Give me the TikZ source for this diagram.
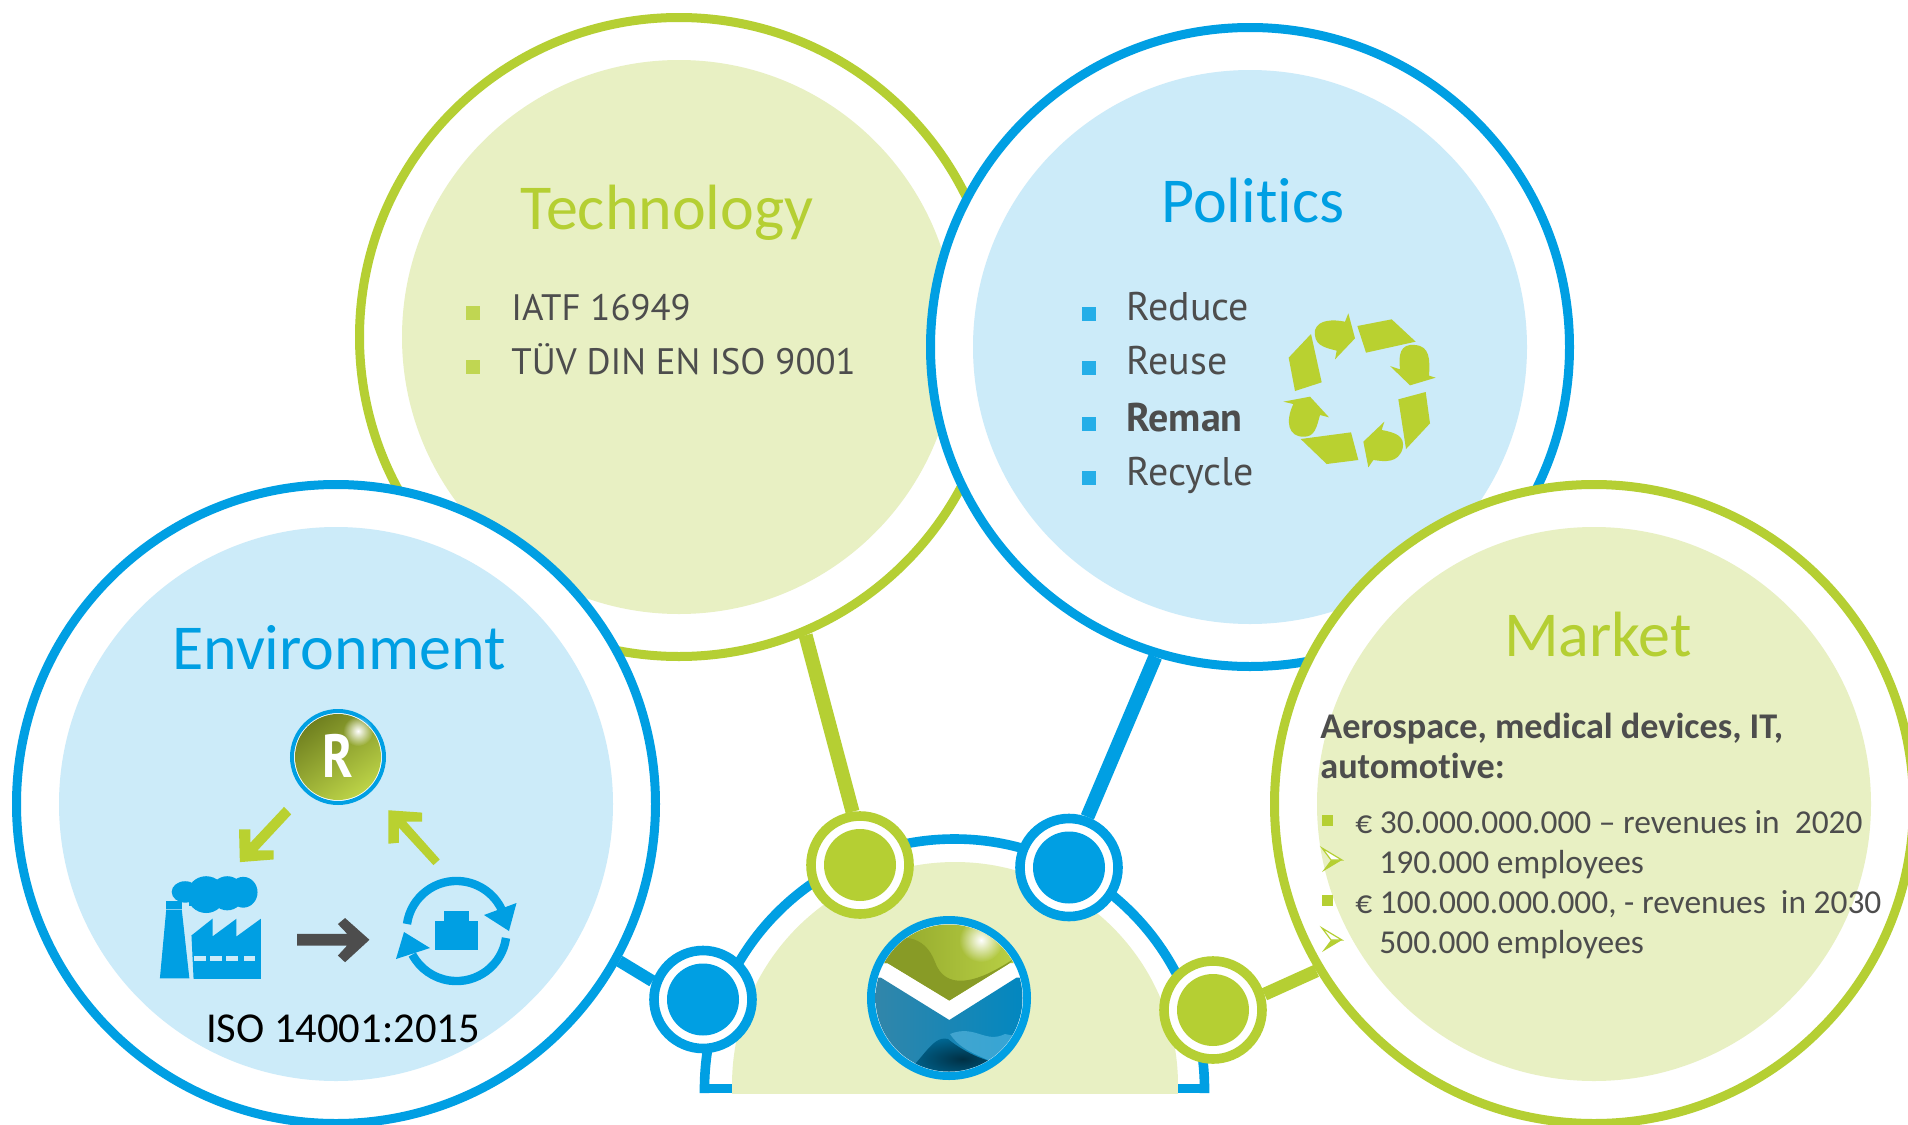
\documentclass[tikz,border=0pt]{standalone}
\usepackage{fontspec}
\setmainfont[Ligatures=NoCommon]{Carlito}
\newfontfamily\din{PT Sans}
\usetikzlibrary{fadings}
\definecolor{lime}{HTML}{B5CF33}
\definecolor{limepale}{HTML}{E8F0C3}
\definecolor{sky}{HTML}{009FE3}
\definecolor{skypale}{HTML}{CCEBF9}
\definecolor{ink}{HTML}{4D4D4D}
\definecolor{skybul}{HTML}{25AEE8}
\pgfdeclarelayer{back}
\pgfsetlayers{back,main}
\tikzfading[name=softspot,inner color=transparent!0,outer color=transparent!100]
\tikzset{
  ring/.style={circle,draw=#1,line width=4.5pt,fill=white,inner sep=0pt,minimum size=319.5pt},
  disc/.style={circle,fill=#1,inner sep=0pt,minimum size=277pt},
  hub/.style={circle,draw=#1,line width=4.8pt,fill=white,inner sep=0pt,minimum size=49pt},
  hubcore/.style={circle,fill=#1,inner sep=0pt,minimum size=36pt},
  link/.style={line width=7pt,draw=#1},
  title/.style={anchor=base,inner sep=0pt,font=\fontsize{32}{32}\selectfont,text=#1},
  din/.style={anchor=base west,inner sep=0pt,font=\din\fontsize{18.4}{19}\selectfont,text=ink},
  dinp/.style={anchor=base west,inner sep=0pt,font=\din\fontsize{20}{20}\selectfont,text=ink},
  mk/.style={anchor=base west,inner sep=0pt,font=\fontsize{16.7}{16.7}\selectfont,text=ink},
  mkb/.style={anchor=base west,inner sep=0pt,font=\bfseries\fontsize{18.1}{18}\selectfont,text=ink},
  bul/.style={rectangle,fill=#1,inner sep=0pt,minimum size=7pt},
  mbul/.style={rectangle,fill=#1,inner sep=0pt,minimum size=5.5pt},
}
\begin{document}
\begin{tikzpicture}[x=0.5pt,y=-0.5pt]
\path[use as bounding box,clip] (0,0) rectangle (1908,1125);
\begin{pgfonlayer}{back}
\fill[white] (0,0) rectangle (1908,1125);
\end{pgfonlayer}

% big circles
\node[ring=lime] (tech) at (679,337) {};
\node[disc=limepale] (techd) at (679,337) {};
\node[ring=sky] (poli) at (1250,347) {};
\node[disc=skypale] (polid) at (1250,347) {};
\node[ring=sky] (envi) at (336,804) {};
\node[disc=skypale] (envid) at (336,804) {};
\node[ring=lime] (mark) at (1594,804) {};
\node[disc=limepale] (markd) at (1594,804) {};

% base half disc and arc
\begin{scope}
\clip (600,700) rectangle (1300,1093);
\fill[limepale] (955,1085) circle [radius=223];
\end{scope}
\draw[sky,line width=4.8pt,line cap=butt]
  (704.5,1093) -- (704.5,1089) arc[start angle=180,end angle=360,radius=250] -- (1204.5,1093);
\fill[sky] (700,1084) rectangle (732,1093);
\fill[sky] (1177.5,1084) rectangle (1209,1093);

% hubs
\node[hub=lime] (hubtech) at (860,865) {};
\node[hubcore=lime] (hubtechc) at (860,865) {};
\node[hub=sky] (hubpoli) at (1069,867.5) {};
\node[hubcore=sky] (hubpolic) at (1069,867.5) {};
\node[hub=sky] (hubenvi) at (703,999.5) {};
\node[hubcore=sky] (hubenvic) at (703,999.5) {};
\node[hub=lime] (hubmark) at (1213,1010) {};
\node[hubcore=lime] (hubmarkc) at (1213,1010) {};

% connectors
\begin{pgfonlayer}{back}
\draw[link=lime] (tech.-67) -- (hubtech.98);
\draw[link=sky] (poli.-107) -- (hubpoli.70);
\draw[link=sky,line width=6pt] (envi.-29) -- (hubenvi.160);
\draw[link=lime,line width=6.5pt] (mark.-149) -- (hubmark.17);
\end{pgfonlayer}

% logo
\node[circle,draw=sky,line width=4pt,fill=white,inner sep=0pt,minimum size=78pt] (logo) at (949,998) {};
\begin{scope}
\clip (949,998) circle [radius=73.5];
\path[clip] (870,963) -- (887.5,963) -- (949.3,1000.5) -- (1010,963) -- (1030,963) -- (1030,920) -- (870,920) -- cycle;
\shade[left color=lime!78!black,right color=lime!90!white] (870,920) rectangle (1030,1010);
\fill[lime!75!black] (870,950) .. controls (900,930) and (925,935) .. (935,962) .. controls (945,990) and (975,985) .. (1015,958) -- (960,1010) -- (870,1010) -- cycle;
\fill[white,path fading=softspot] (981,940) circle [radius=22];
\end{scope}
\begin{scope}
\clip (949,998) circle [radius=73.5];
\path[clip] (870,977.5) -- (880.7,977.5) -- (949.3,1020) -- (1016.7,977.5) -- (1030,977.5) -- (1030,1080) -- (870,1080) -- cycle;
\shade[left color=sky!65!black!80!white,right color=sky!85!black] (870,975) rectangle (1030,1080);
\fill[sky!55!white,opacity=.45] (950,1034) .. controls (975,1024) and (985,1044) .. (1005,1034) -- (1030,1039) -- (1030,1080) -- (990,1061) .. controls (975,1054) and (960,1049) .. (950,1034) -- cycle;
\shade[inner color=sky!30!black,outer color=sky!70!black] (895,1079) .. controls (920,1069) and (930,1034) .. (948,1039) .. controls (960,1049) and (985,1064) .. (1010,1064) -- (1030,1084) -- cycle;
\end{scope}

% titles
\node[title=lime] (ttech) at (667,229) {Technology};
\node[title=sky] (tpoli) at (1253,222) {Politics};
\node[title=sky] (tenvi) at (339,669.5) {Environment};
\node[title=lime] (tmark) at (1598,656) {Market};

% technology list
\node[bul=lime!85!white] (bt1) at (472.5,313) {};
\node[bul=lime!85!white] (bt2) at (472.5,367) {};
\node[din] (lt1) at (511,320.5) {IATF 16949};
\node[din] (lt2) at (511,374.5) {TÜV DIN EN ISO 9001};

% politics list
\node[bul=skybul] (bp1) at (1088.5,314) {};
\node[bul=skybul] (bp2) at (1088.5,367.5) {};
\node[bul=skybul] (bp3) at (1088.5,423.5) {};
\node[bul=skybul] (bp4) at (1088.5,478) {};
\node[dinp] (lp1) at (1126,320.5) {Reduce};
\node[dinp] (lp2) at (1126,374.5) {Reuse};
\node[dinp,font=\din\bfseries\fontsize{20}{20}\selectfont] (lp3) at (1126,431) {Reman};
\node[dinp] (lp4) at (1126,485) {Recycle};

% recycle symbol
\begin{scope}[shift={(1050,260)},x=0.16667pt,y=-0.16667pt]
\fill[lime!95!yellow] (783,222) -- (716,293) -- (735,393) -- (815,367) -- cycle;
\fill[lime!95!yellow] (795,210) .. controls (805,178) and (850,178) .. (885,185) -- (895,160) -- (915,235) -- (855,298) -- (860,272) .. controls (820,262) and (790,255) .. (795,210) -- cycle;
\fill[lime!95!yellow] (922,198) -- (1025,178) -- (1097,245) -- (948,278) -- cycle;
\fill[lime!95!yellow] (1020,318) -- (1050,328) .. controls (1045,285) and (1050,250) .. (1095,255) .. controls (1140,258) and (1140,300) .. (1137,347) -- (1157,353) -- (1080,376) -- cycle;
\fill[lime!95!yellow] (1045,418) -- (1127,396) -- (1140,490) -- (1068,567) -- cycle;
\fill[lime!95!yellow] (1003,485) -- (995,510) .. controls (1040,518) and (1065,530) .. (1058,565) .. controls (1045,610) and (1005,605) .. (970,600) -- (955,622) -- (940,545) -- cycle;
\fill[lime!95!yellow] (752,537) -- (903,517) -- (925,600) -- (830,612) -- cycle;
\fill[lime!95!yellow] (700,425) -- (780,410) -- (837,472) -- (810,465) .. controls (800,500) and (795,532) .. (760,530) .. controls (715,530) and (705,485) .. (730,432) -- cycle;
\end{scope}

% environment icons
\node[circle,draw=sky,line width=2pt,fill=white,inner sep=0pt,minimum size=46pt] (rball) at (338,757) {};
\shade[left color=lime!62!black,right color=lime!90!white,shading angle=35] (338,757) circle [radius=43];
\fill[white,path fading=softspot] (358,731) circle [radius=15];
\node[anchor=base,inner sep=0pt,text=white,font=\din\bfseries\fontsize{29}{29}\selectfont] (rlet) at (338,777.5) {\scalebox{.88}[1.05]{R}};
\begin{scope}[shift={(0,600)},x=0.2104pt,y=-0.16739pt]
\fill[lime!95!yellow] (675,618) -- (692,640) -- (612,748) -- (650,748) -- (650,775) -- (570,783) -- (568,685) -- (595,685) -- (595,725) -- cycle;
\fill[lime!95!yellow] (1045,775) -- (1030,792) -- (948,680) -- (948,725) -- (923,728) -- (923,628) -- (1003,635) -- (1003,662) -- (965,662) -- cycle;
% factory
\fill[sky] (380,1130) -- (395,925) -- (432,925) -- (450,1130) -- cycle;
\fill[sky] (395,898) rectangle (432,922);
\fill[sky] (440,872) ellipse [x radius=32,y radius=32];
\fill[sky] (490,880) ellipse [x radius=45,y radius=55];
\fill[sky] (540,876) ellipse [x radius=40,y radius=51];
\fill[sky] (578,873) ellipse [x radius=34,y radius=46];
\fill[sky] (450,860) rectangle (590,915);
\fill[sky] (460,1132) -- (455,1002) -- (505,952) -- (505,1005) -- (562,952) -- (562,1005) -- (620,952) -- (620,1132) -- cycle;
\fill[skypale] (462,1062) rectangle (490,1078);
\fill[skypale] (500,1062) rectangle (527,1078);
\fill[skypale] (538,1062) rectangle (565,1078);
\fill[skypale] (580,1062) rectangle (606,1078);
% dark arrow
\fill[ink] (706,997) -- (825,997) -- (803,968) -- (820,950) -- (878,1015) -- (820,1082) -- (803,1062) -- (825,1032) -- (706,1032) -- cycle;
% box
\fill[sky] (1055,930) rectangle (1115,965);
\fill[sky] (1033,960) rectangle (1137,1045);
\end{scope}
% cycle arrows
\coordinate (cyc) at (456.5,931);
\draw[sky,line width=4.2pt] (cyc) ++(-49.5,-7) arc[start angle=188,delta angle=156,radius=50];
\draw[sky,line width=4.2pt] (cyc) ++(49.5,7) arc[start angle=8,delta angle=144,radius=50];
\fill[sky] (516.5,903) -- (509,931) -- (484,915) -- cycle;
\fill[sky] (396,959) -- (404,932) -- (430,948) -- cycle;

\node[anchor=base,inner sep=0pt,font=\fontsize{21.3}{21}\selectfont,text=black] (iso) at (343,1042) {ISO 14001:2015};

% market text
\node[mkb] (m1) at (1320,738) {Aerospace, medical devices, IT,};
\node[mkb] (m2) at (1320,778) {automotive:};
\node[mbul=lime] (mb1) at (1327,820) {};
\node[mbul=lime] (mb3) at (1327,900) {};
\node[mk] (m3) at (1355,833) {€ 30.000.000.000 – revenues in\ \ 2020};
\node[mk] (m4) at (1379,873) {190.000 employees};
\node[mk] (m5) at (1355,913) {€ 100.000.000.000, - revenues\ \ in 2030};
\node[mk] (m6) at (1379,953) {500.000 employees};
\foreach \yy in {848,928} {
  \fill[lime] (1342,\yy+12) -- (1322,\yy+24) -- (1331,\yy+12) -- cycle;
  \draw[lime,line width=.6pt,fill=white] (1322,\yy) -- (1342,\yy+12) -- (1331,\yy+12) -- cycle;
}
\end{tikzpicture}
\end{document}
